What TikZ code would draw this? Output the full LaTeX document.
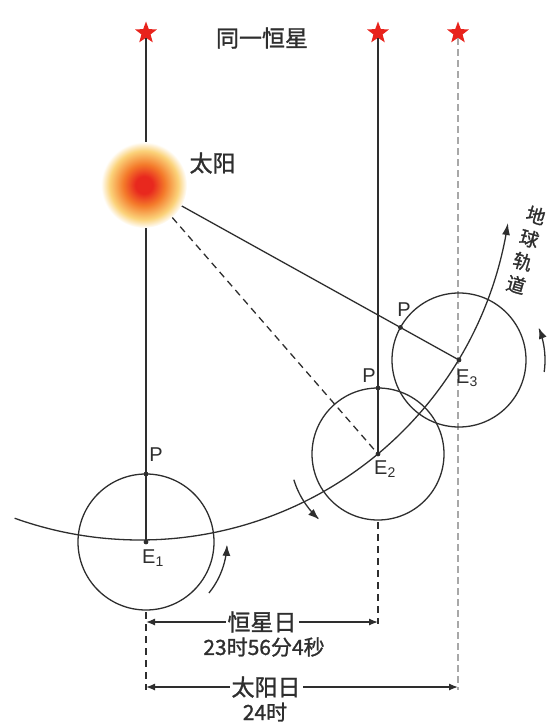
\documentclass[tikz,border=0pt]{standalone}
\usepackage{fontspec}
\setmainfont{Liberation Sans}
\newfontfamily\cjk{Noto Sans CJK SC}[FakeBold=1.2]
\usetikzlibrary{shapes.geometric,arrows.meta,calc}

\definecolor{ink}{HTML}{2E2E2E}
\definecolor{starred}{HTML}{E8231C}
\definecolor{sunred}{HTML}{E8281E}
\definecolor{sunorange}{HTML}{F47A2A}
\definecolor{sunyellow}{HTML}{FBD27A}
\definecolor{fadeline}{HTML}{A8A8A8}

% glowing sun: red core fading through orange and yellow to white
\pgfdeclareradialshading{sunglow}{\pgfpoint{0bp}{0bp}}{%
  color(0bp)=(sunred); color(5bp)=(sunred); color(12bp)=(sunorange);
  color(20bp)=(sunyellow); color(25bp)=(white); color(50bp)=(white)}

\begin{document}
\begin{tikzpicture}[x=1pt,y=-1pt,
  line/.style={draw=ink, line width=1.3pt},
  dashline/.style={draw=ink, line width=1.3pt, dash pattern=on 7pt off 5pt},
  fadedash/.style={draw=fadeline, line width=2pt, dash pattern=on 7pt off 4pt},
  dim/.style={draw=ink, line width=1.3pt, {Latex[length=9pt,width=7pt]}-{Latex[length=9pt,width=7pt]}},
  spin/.style={draw=ink, line width=1.3pt, -{Latex[length=11pt,width=8pt]}},
  starmark/.style={star, star points=5, star point ratio=2.4, fill=starred, minimum size=23pt, inner sep=0pt},
  dot/.style={fill=ink},
  lbl/.style={text=ink, font=\fontsize{20}{20}\selectfont},
  cjklbl/.style={text=ink, font=\cjk\fontsize{23}{23}\selectfont}
]
\useasboundingbox (0,0) rectangle (550,727);

% positions
\coordinate (E1) at (146,542);
\coordinate (E2) at (378,454);
\coordinate (E3) at (459,360);
\coordinate (P1) at (146,474);
\coordinate (P2) at (378,388);

% stars
\node[starmark] (s1) at (146,33) {};
\node[starmark] (s2) at (378,33) {};
\node[starmark] (s3) at (458,33) {};
\node[cjklbl] (same) at (262,38) {同一恒星};

% sightlines toward the star
\draw[line] (s1) -- (E1);
\draw[line] (s2) -- (E2);
\coordinate (s3foot) at (458,690);
\draw[fadedash] (s3) -- (s3foot);

% the sun
\node[circle, minimum size=86pt, inner sep=0pt, shading=sunglow] (sun) at (144,185) {};
\node[cjklbl, anchor=west] (sunlbl) at (186,163) {太阳};
\coordinate (P3) at ($(E3)!67pt!(sun.center)$);

% lines from the sun
\draw[dashline] (sun) -- (E2);
\draw[line] (sun) -- (E3);

% orbit
\draw[line, -{Latex[length=12pt,width=8pt]}]
  plot[domain=109.7:8.5, samples=120] ({140+372*cos(\x)},{168+372*sin(\x)});
\node[text=ink, rotate=-16, align=center, font=\cjk\fontsize{19}{24}\selectfont]
  (orbitlbl) at (526,250) {地\\球\\轨\\道};

% the earth at three positions
\draw[line] (E1) circle[radius=68pt];
\draw[line] (E2) circle[radius=66pt];
\draw[line] (E3) circle[radius=67pt];

% rotation arrows
\draw[spin] plot[domain=39:2, samples=30] ({146+81*cos(\x)},{542+81*sin(\x)});
\draw[spin] plot[domain=163:132, samples=30] ({378+88*cos(\x)},{454+88*sin(\x)});
\draw[spin] plot[domain=8:-22, samples=30] ({459+86*cos(\x)},{360+86*sin(\x)});

% points
\foreach \p in {E1,E2,E3,P1,P2,P3} \fill[dot] (\p) circle (2.4pt);

% labels
\node[lbl] (p1lbl) at (156,455) {P};
\node[lbl] (p2lbl) at (369,376) {P};
\node[lbl] (p3lbl) at (404,310) {P};
\node[lbl] (e1lbl) at (153,558) {E$_{\mathrm{1}}$};
\node[lbl] (e2lbl) at (385,469) {E$_{\mathrm{2}}$};
\node[lbl] (e3lbl) at (467,378) {E$_{\mathrm{3}}$};

% day lengths
\coordinate (d1a) at (146,612);
\coordinate (d1b) at (146,690);
\coordinate (d2a) at (378,522);
\coordinate (d2b) at (378,624);
\draw[dashline] (d1a) -- (d1b);
\draw[dashline] (d2a) -- (d2b);

\coordinate (sdL) at (146,622);
\coordinate (sdR) at (378,622);
\coordinate (soL) at (146,687);
\coordinate (soR) at (458,687);
\draw[dim] (sdL) -- node[cjklbl, fill=white, inner sep=2pt] (sdlbl) {恒星日} (sdR);
\draw[dim] (soL) -- node[cjklbl, fill=white, inner sep=2pt, xshift=-36pt] (solbl) {太阳日} (soR);
\node[cjklbl, font=\cjk\fontsize{21}{21}\selectfont] (sdval) at (264,647) {23时56分4秒};
\node[cjklbl, font=\cjk\fontsize{21}{21}\selectfont] (soval) at (265,712) {24时};
\end{tikzpicture}
\end{document}
